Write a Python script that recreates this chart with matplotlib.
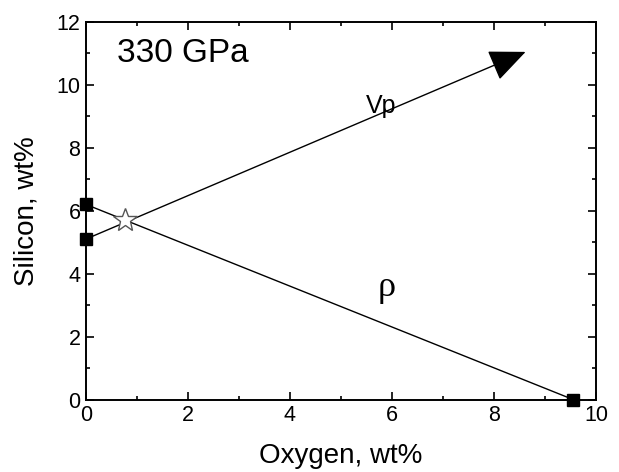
import numpy as np
import matplotlib.pyplot as plt
from matplotlib.ticker import MultipleLocator

plt.rcParams['font.family'] = ['Liberation Sans', 'DejaVu Sans']

# datos
vp_x = [0.0, 8.62]
vp_y = [5.1, 11.05]
rho_x = [0.0, 9.55]
rho_y = [6.2, 0.0]
sq_x = [0.0, 0.0, 9.55]
sq_y = [6.2, 5.1, 0.0]
star_x = [0.76]
star_y = [5.72]

fig = plt.figure(figsize=(6.19, 4.72), dpi=100)
ax = fig.add_axes([0.1389, 0.1536, 0.8239, 0.7998])

# linea rho
ax.plot(rho_x, rho_y, color='k', lw=1.0, zorder=2)
# linea Vp con flecha
ax.annotate('', xy=(vp_x[1], vp_y[1]), xytext=(vp_x[0], vp_y[0]),
            arrowprops=dict(arrowstyle='-|>,head_length=1.15,head_width=0.5',
                            mutation_scale=20, color='k', lw=1.0,
                            shrinkA=0, shrinkB=0), zorder=2)
ax.plot(sq_x, sq_y, 's', color='k', ms=8.5, clip_on=False, zorder=4)
ax.plot(star_x, star_y, '*', mfc='white', mec='#555555', mew=1.0, ms=18, zorder=5)

ax.text(0.6, 11.0, '330 GPa', fontsize=24, ha='left', va='center')
ax.text(5.78, 9.32, 'Vp', fontsize=18, ha='center', va='center')
ax.text(5.9, 3.55, 'ρ', fontsize=26, ha='center', va='center',
        family=['Liberation Serif', 'DejaVu Serif'])

ax.set_xlim(0, 10)
ax.set_ylim(0, 12)
ax.xaxis.set_major_locator(MultipleLocator(2))
ax.xaxis.set_minor_locator(MultipleLocator(1))
ax.yaxis.set_major_locator(MultipleLocator(2))
ax.yaxis.set_minor_locator(MultipleLocator(1))
ax.tick_params(which='both', direction='in', top=True, right=True, width=1.2)
ax.tick_params(which='major', length=5.5, labelsize=15.5, pad=4)
ax.tick_params(which='minor', length=3)
for s in ax.spines.values():
    s.set_linewidth(1.4)

ax.set_xlabel('Oxygen, wt%', fontsize=20, labelpad=12)
ax.set_ylabel('Silicon, wt%', fontsize=20, labelpad=12)

fig.savefig('out.png', dpi=100)
